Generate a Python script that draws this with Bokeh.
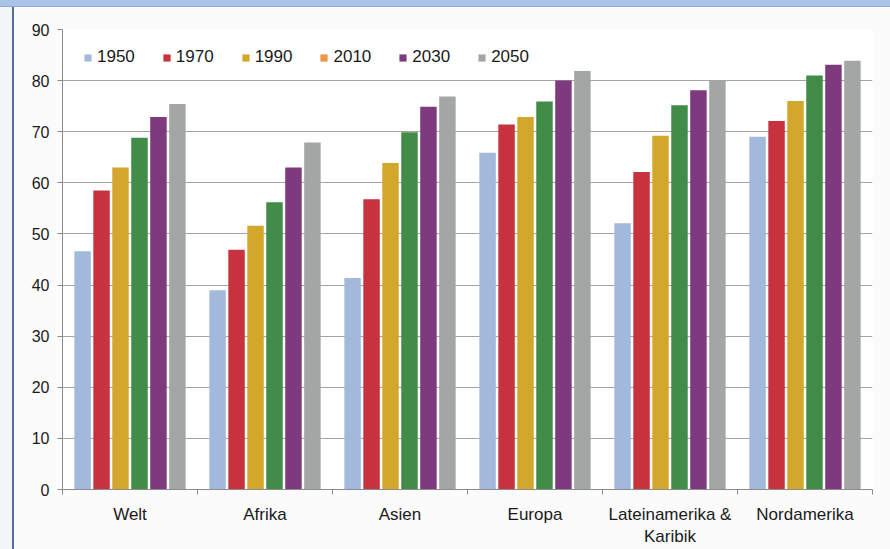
from bokeh.plotting import figure
from bokeh.models import (ColumnDataSource, Range1d, LinearAxis, FixedTicker, Legend,
                          LegendItem, Div)
from bokeh.layouts import column, row
from bokeh.embed import file_html
from bokeh.resources import INLINE

# ---- data ----
regions = ["Welt", "Afrika", "Asien", "Europa", "Lateinamerika &\nKaribik", "Nordamerika"]
years = ["1950", "1970", "1990", "2010", "2030", "2050"]
v1950 = [46.6, 39.0, 41.4, 65.9, 52.1, 69.0]
v1970 = [58.5, 46.9, 56.8, 71.4, 62.1, 72.1]
v1990 = [63.0, 51.6, 63.9, 72.9, 69.2, 76.0]
v2010 = [68.8, 56.2, 69.9, 75.9, 75.2, 81.0]
v2030 = [72.9, 63.0, 74.9, 80.0, 78.1, 83.1]
v2050 = [75.4, 67.9, 76.9, 81.9, 80.0, 83.9]
y_ticks = [0, 10, 20, 30, 40, 50, 60, 70, 80, 90]

series = [v1950, v1970, v1990, v2010, v2030, v2050]
bar_colors = ["#a2b9dc", "#c7323f", "#d3a72b", "#418c49", "#7d3b7d", "#a4a6a6"]
legend_colors = ["#a2b9dc", "#c7323f", "#d3a72b", "#ef9548", "#7d3b7d", "#a4a6a6"]

FONT = "Liberation Sans"
TXT = "#1a1a1a"
GRID = "#a3a3a3"
AX = "#8c8c8c"

n = len(regions)
centers = [i + 0.5 for i in range(n)]  # category slots on a numeric scale
bounds = list(range(n + 1))            # separators between categories

p = figure(width=876, height=542, x_range=Range1d(0, n), y_range=Range1d(0, 90),
           output_backend="svg", toolbar_location=None, x_axis_location=None,
           min_border_left=48, min_border_right=18, min_border_top=22, min_border_bottom=53)
p.outline_line_color = None
p.background_fill_color = "#ffffff"
p.border_fill_color = "#fbfbfc"

pitch = 0.1405
bw = 0.122
for i, (y, s, c) in enumerate(zip(years, series, bar_colors)):
    off = (i - 2.5) * pitch
    src = ColumnDataSource(dict(x=[cx + off for cx in centers], top=s))
    p.vbar(x="x", top="top", width=bw, source=src, fill_color=c, line_color=None)

# legend (swatch colours as printed in the reference); proxies lie outside the view
items = []
for y, c in zip(years, legend_colors):
    r = p.vbar(x=[-10], top=[1], width=0.1, fill_color=c, line_color=None)
    items.append(LegendItem(label=y, renderers=[r]))
legend = Legend(items=items, orientation="horizontal", location=(21, 422),
                border_line_color=None, background_fill_alpha=0, padding=0, margin=0,
                spacing=27, glyph_width=9, glyph_height=9, label_standoff=5,
                label_text_font_size="17px", label_text_font=FONT, label_text_color=TXT)
p.add_layout(legend)

# y axis & grid
p.yaxis.ticker = FixedTicker(ticks=y_ticks)
p.yaxis.major_label_text_font = FONT
p.yaxis.major_label_text_font_size = "16px"
p.yaxis.major_label_text_color = TXT
p.yaxis.axis_line_color = AX
p.yaxis.major_tick_line_color = AX
p.yaxis.major_tick_in = 0
p.yaxis.major_tick_out = 5
p.yaxis.minor_tick_line_color = None
p.yaxis.major_label_standoff = 8
p.ygrid.grid_line_color = GRID
p.ygrid.ticker = FixedTicker(ticks=y_ticks)
p.xgrid.grid_line_color = None

# x axis: labels at category centres, separator ticks as minor ticks
cat_axis = LinearAxis(ticker=FixedTicker(ticks=centers, minor_ticks=bounds),
                      major_label_overrides={c: r for c, r in zip(centers, regions)},
                      axis_line_color=AX, major_tick_line_color=None, major_tick_out=0,
                      major_tick_in=0, minor_tick_line_color=AX, minor_tick_out=5,
                      minor_tick_in=0, major_label_standoff=10,
                      major_label_text_font=FONT, major_label_text_font_size="17px",
                      major_label_text_color=TXT)
p.add_layout(cat_axis, "below")

# scanned page: blue banner on top and blue frame line on the left
banner = Div(width=890, height=7, margin=0,
             styles={"background-color": "#a9c4e6", "border-bottom": "1px solid #8fa9cf"})
page_left = Div(width=12, height=542, margin=0, styles={"background-color": "#f4f5f7"})
blue_line = Div(width=2, height=542, margin=0, styles={"background-color": "#4d6f9e"})

layout = column(banner, row(page_left, blue_line, p, spacing=0), spacing=0)

open("out.html", "w").write(file_html(layout, INLINE))
